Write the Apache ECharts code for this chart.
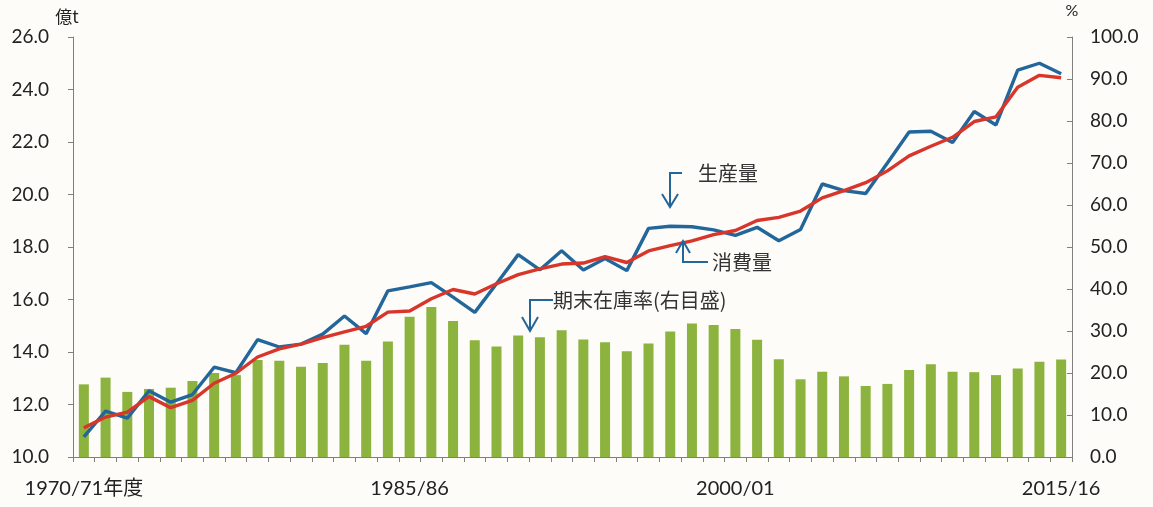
<!DOCTYPE html>
<html>
<head>
<meta charset="utf-8">
<script src="https://cdn.jsdelivr.net/npm/echarts@6/dist/echarts.min.js"></script>
<style>
html,body{margin:0;padding:0;background:#fdfcf8;}
#chart{width:1153px;height:507px;}
</style>
</head>
<body>
<div id="chart"></div>
<script>
// Crop years (1970/71 .. 2015/16)
var categories = ['1970/71','1971/72','1972/73','1973/74','1974/75','1975/76','1976/77','1977/78','1978/79','1979/80',
  '1980/81','1981/82','1982/83','1983/84','1984/85','1985/86','1986/87','1987/88','1988/89','1989/90',
  '1990/91','1991/92','1992/93','1993/94','1994/95','1995/96','1996/97','1997/98','1998/99','1999/00',
  '2000/01','2001/02','2002/03','2003/04','2004/05','2005/06','2006/07','2007/08','2008/09','2009/10',
  '2010/11','2011/12','2012/13','2013/14','2014/15','2015/16'];

// 生産量 (億t)
var production = [10.77,11.75,11.48,12.52,12.09,12.38,13.42,13.21,14.47,14.19,
  14.30,14.68,15.37,14.70,16.33,16.48,16.64,16.09,15.51,16.60,
  17.71,17.13,17.86,17.12,17.56,17.10,18.71,18.79,18.77,18.65,
  18.44,18.75,18.24,18.67,20.40,20.15,20.04,21.20,22.38,22.41,
  21.98,23.16,22.65,24.74,25.00,24.60];

// 消費量 (億t)
var consumption = [11.11,11.52,11.71,12.30,11.88,12.16,12.81,13.19,13.81,14.12,
  14.30,14.55,14.77,14.98,15.52,15.56,16.03,16.38,16.21,16.60,
  16.95,17.17,17.35,17.39,17.63,17.41,17.85,18.05,18.23,18.47,
  18.63,19.01,19.13,19.37,19.87,20.15,20.45,20.90,21.47,21.84,
  22.18,22.78,22.96,24.09,24.54,24.45];

// 期末在庫率 (%)
var stockRatio = [17.3,18.9,15.5,16.2,16.5,18.1,20.0,19.5,23.1,22.9,
  21.5,22.4,26.7,22.9,27.5,33.4,35.7,32.4,27.8,26.3,
  28.9,28.5,30.2,28.0,27.3,25.2,27.0,29.9,31.8,31.4,
  30.5,27.9,23.3,18.5,20.3,19.2,16.9,17.4,20.7,22.1,
  20.3,20.2,19.5,21.1,22.7,23.2];

// x-axis labels shown
var xTickLabels = {0:'1970/71年度', 15:'1985/86', 30:'2000/01', 45:'2015/16'};

var FONT = "Lato, 'Noto Sans CJK JP', sans-serif";
var JP = "'Noto Sans CJK JP', sans-serif";
var BLUE = '#22669a';
var RED = '#d8352b';
var GREEN = '#8db33f';
var AXIS = '#7f7f7f';

var chart = echarts.init(document.getElementById('chart'));
chart.setOption({
  backgroundColor: '#fdfcf8',
  animation: false,
  grid: {left: 73, right: 81, top: 37, bottom: 50, containLabel: false},
  xAxis: {
    type: 'category',
    data: categories,
    boundaryGap: true,
    axisLine: {lineStyle: {color: AXIS, width: 1}},
    axisTick: {show: true, interval: 0, length: 5, lineStyle: {color: AXIS}},
    axisLabel: {
      interval: function (i) { return xTickLabels[i] !== undefined; },
      formatter: function (v, i) { return xTickLabels[i] || ''; },
      color: '#222', fontSize: 20, fontFamily: FONT, margin: 22
    },
    splitLine: {show: false}
  },
  yAxis: [{
    type: 'value', min: 10, max: 26, interval: 2, position: 'left',
    name: '億t', nameLocation: 'end', nameGap: 12,
    nameTextStyle: {color: '#222', fontSize: 17, fontFamily: JP, align: 'center', padding: [0, 12, 0, 0]},
    axisLine: {show: true, lineStyle: {color: AXIS}},
    axisTick: {show: true, length: 5, lineStyle: {color: AXIS}},
    axisLabel: {formatter: function (v) { return v.toFixed(1); }, color: '#222', fontSize: 19, fontFamily: FONT, margin: 24},
    splitLine: {show: false}
  }, {
    type: 'value', min: 0, max: 100, interval: 10, position: 'right',
    name: '%', nameLocation: 'end', nameGap: 18,
    nameTextStyle: {color: '#222', fontSize: 16, fontFamily: FONT, align: 'center'},
    axisLine: {show: true, lineStyle: {color: AXIS}},
    axisTick: {show: true, inside: true, length: 5, lineStyle: {color: AXIS}},
    axisLabel: {formatter: function (v) { return v.toFixed(1); }, color: '#222', fontSize: 19, fontFamily: FONT, margin: 18},
    splitLine: {show: false}
  }],
  series: [{
    name: '期末在庫率', type: 'bar', yAxisIndex: 1, data: stockRatio,
    barWidth: 10, itemStyle: {color: GREEN}, z: 1
  }, {
    name: '生産量', type: 'line', yAxisIndex: 0, data: production,
    symbol: 'none', lineStyle: {color: BLUE, width: 3.4}, z: 3
  }, {
    name: '消費量', type: 'line', yAxisIndex: 0, data: consumption,
    symbol: 'none', lineStyle: {color: RED, width: 3.4}, z: 4
  }],
  graphic: [
    // 生産量 annotation
    {type: 'polyline', shape: {points: [[682, 173], [670, 173], [670, 206]]}, style: {stroke: BLUE, lineWidth: 2, fill: null}, z: 10},
    {type: 'polyline', shape: {points: [[662, 194], [670, 207], [678, 194]]}, style: {stroke: BLUE, lineWidth: 2, fill: null}, z: 10},
    {type: 'text', left: 698, top: 163, style: {text: '生産量', fill: '#333', font: "20px 'Noto Sans CJK JP'"}, z: 10},
    // 消費量 annotation
    {type: 'polyline', shape: {points: [[683, 242], [683, 262], [708, 262]]}, style: {stroke: BLUE, lineWidth: 2, fill: null}, z: 10},
    {type: 'polyline', shape: {points: [[676, 253], [683, 241], [690, 253]]}, style: {stroke: BLUE, lineWidth: 2, fill: null}, z: 10},
    {type: 'text', left: 712, top: 252, style: {text: '消費量', fill: '#333', font: "20px 'Noto Sans CJK JP'"}, z: 10},
    // 期末在庫率 annotation
    {type: 'polyline', shape: {points: [[553, 300], [530, 300], [530, 330]]}, style: {stroke: BLUE, lineWidth: 2, fill: null}, z: 10},
    {type: 'polyline', shape: {points: [[522, 317], [530, 331], [538, 317]]}, style: {stroke: BLUE, lineWidth: 2, fill: null}, z: 10},
    {type: 'text', left: 553, top: 290, style: {text: '期末在庫率(右目盛)', fill: '#333', font: "20px 'Noto Sans CJK JP'"}, z: 10}
  ]
});
</script>
</body>
</html>
